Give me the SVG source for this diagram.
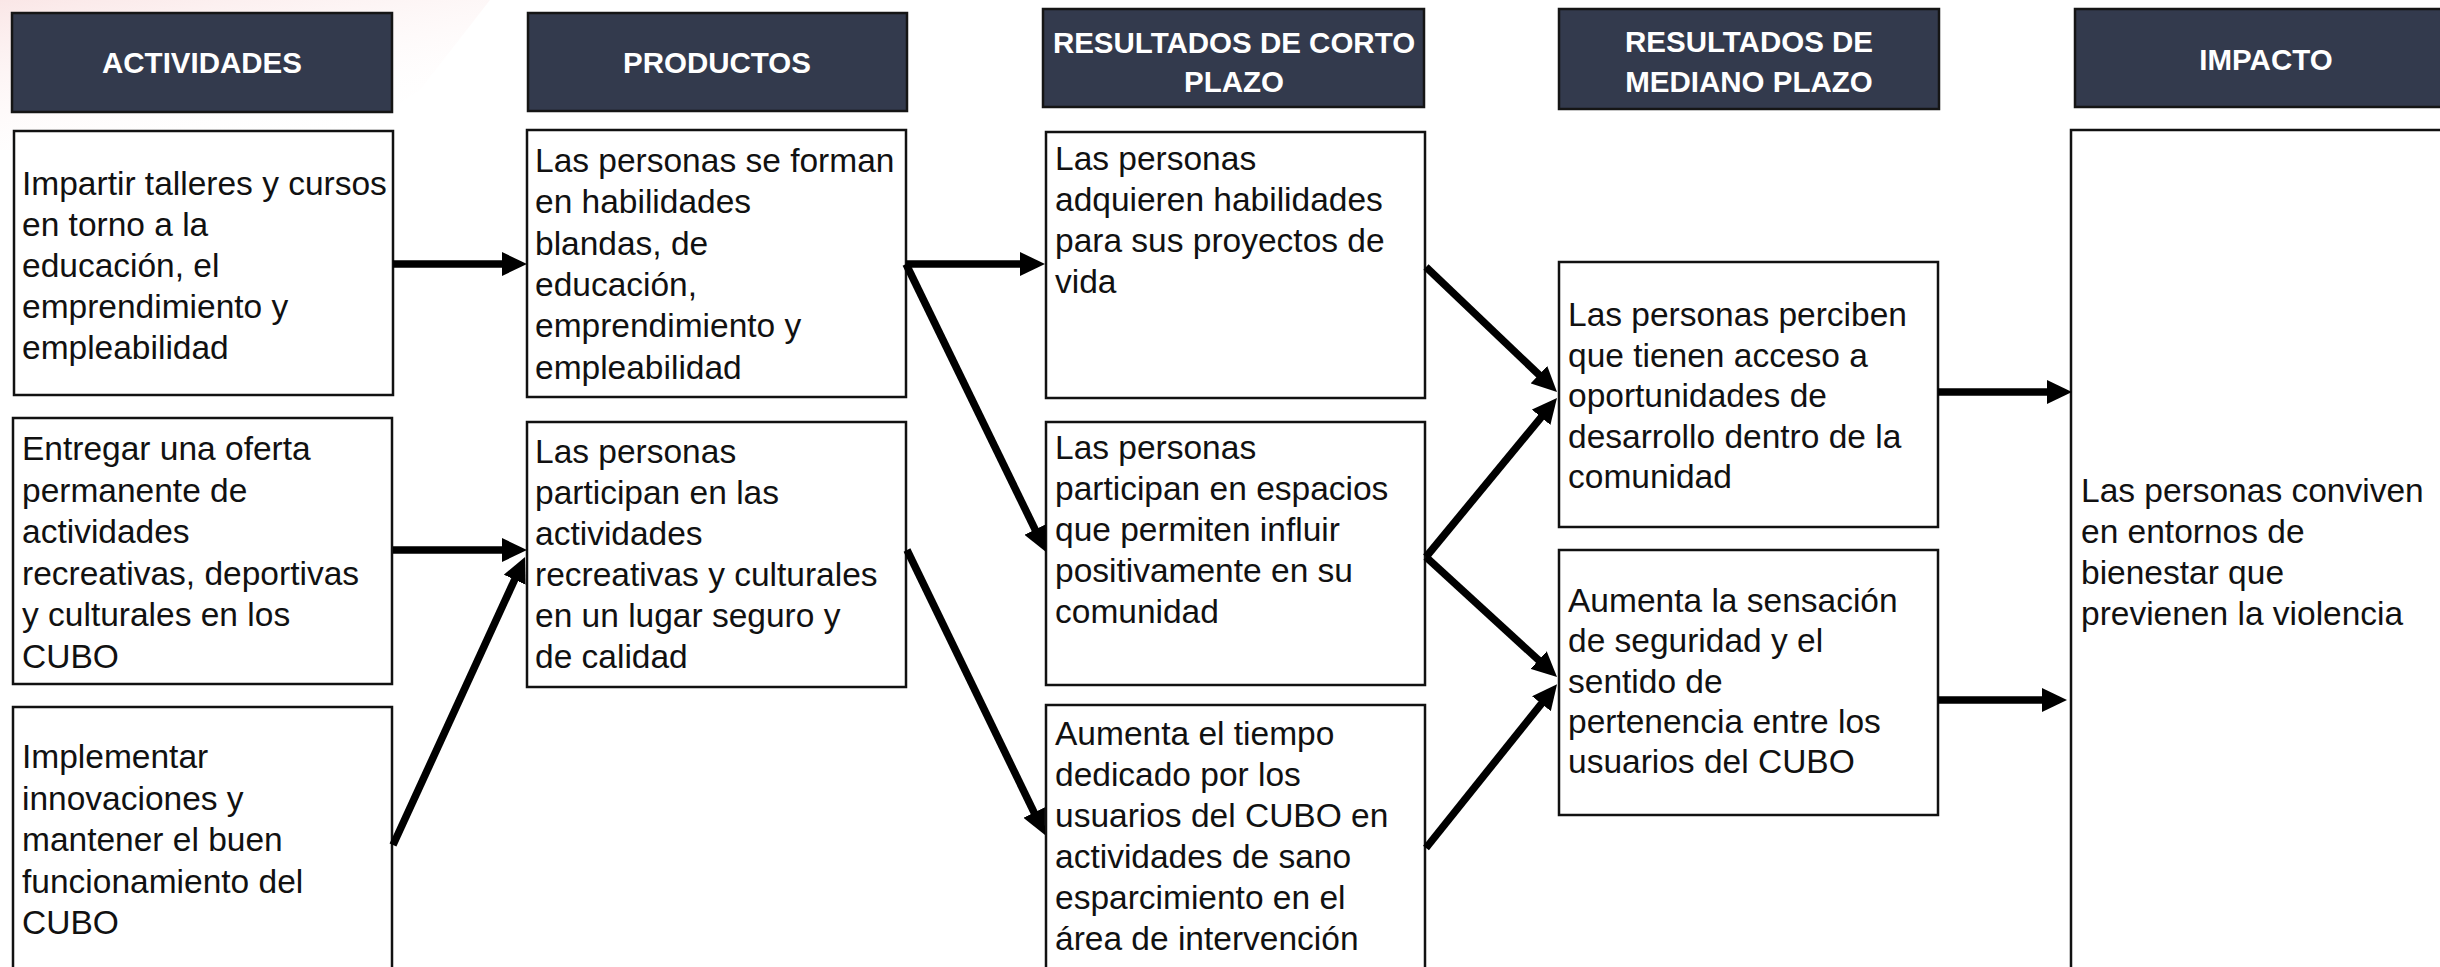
<svg xmlns="http://www.w3.org/2000/svg" width="2440" height="967" viewBox="0 0 2440 967">
<style>
.hdr{fill:#333a4d;stroke:#151515;stroke-width:2.5}
.box{fill:#ffffff;stroke:#111111;stroke-width:2.5}
.ht{font-family:"Liberation Sans",Arial,sans-serif;font-weight:bold;font-size:29.5px;fill:#ffffff;text-anchor:middle}
.bt{font-family:"Liberation Sans",Arial,sans-serif;font-size:33.5px;fill:#111111}
.cn{stroke:#000000;stroke-width:7.5;fill:none;marker-end:url(#ah)}
</style>
<defs>
<marker id="ah" markerUnits="userSpaceOnUse" markerWidth="25" markerHeight="24" viewBox="0 0 25 24" refX="11" refY="12" orient="auto">
<path d="M0,0 L25,12 L0,24 Z" fill="#000000"/>
</marker>
<linearGradient id="pk" x1="0" y1="0" x2="0.6" y2="1">
<stop offset="0" stop-color="#f8dcdc" stop-opacity="0.7"/>
<stop offset="1" stop-color="#ffffff" stop-opacity="0"/>
</linearGradient>
</defs>
<rect x="0" y="0" width="2440" height="967" fill="#ffffff"/>
<polygon points="0,0 490,0 420,90 330,150 0,150" fill="url(#pk)"/>

<g id="h-actividades"><rect class="hdr" x="12" y="13" width="380" height="99"/><text class="ht" x="202" y="73">ACTIVIDADES</text></g>
<g id="h-productos"><rect class="hdr" x="528" y="13" width="379" height="98"/><text class="ht" x="717" y="73">PRODUCTOS</text></g>
<g id="h-corto"><rect class="hdr" x="1043" y="9" width="381" height="98"/><text class="ht" x="1234" y="53">RESULTADOS DE CORTO</text><text class="ht" x="1234" y="92">PLAZO</text></g>
<g id="h-mediano"><rect class="hdr" x="1559" y="9" width="380" height="100"/><text class="ht" x="1749" y="52">RESULTADOS DE</text><text class="ht" x="1749" y="92">MEDIANO PLAZO</text></g>
<g id="h-impacto"><rect class="hdr" x="2075" y="9" width="385" height="98"/><text class="ht" x="2266" y="70">IMPACTO</text></g>

<g id="a1"><rect class="box" x="14" y="131" width="379" height="264"/>
<text class="bt"><tspan x="22" y="195">Impartir talleres y cursos</tspan><tspan x="22" y="236">en torno a la</tspan><tspan x="22" y="277">educación, el</tspan><tspan x="22" y="318">emprendimiento y</tspan><tspan x="22" y="359">empleabilidad</tspan></text></g>
<g id="a2"><rect class="box" x="13" y="418" width="379" height="266"/>
<text class="bt"><tspan x="22" y="460">Entregar una oferta</tspan><tspan x="22" y="501.5">permanente de</tspan><tspan x="22" y="543">actividades</tspan><tspan x="22" y="584.5">recreativas, deportivas</tspan><tspan x="22" y="626">y culturales en los</tspan><tspan x="22" y="667.5">CUBO</tspan></text></g>
<g id="a3"><rect class="box" x="13" y="707" width="379" height="280"/>
<text class="bt"><tspan x="22" y="768">Implementar</tspan><tspan x="22" y="809.5">innovaciones y</tspan><tspan x="22" y="851">mantener el buen</tspan><tspan x="22" y="892.5">funcionamiento del</tspan><tspan x="22" y="934">CUBO</tspan></text></g>

<g id="p1"><rect class="box" x="527" y="130" width="379" height="267"/>
<text class="bt"><tspan x="535" y="172">Las personas se forman</tspan><tspan x="535" y="213.3">en habilidades</tspan><tspan x="535" y="254.6">blandas, de</tspan><tspan x="535" y="295.9">educación,</tspan><tspan x="535" y="337.2">emprendimiento y</tspan><tspan x="535" y="378.5">empleabilidad</tspan></text></g>
<g id="p2"><rect class="box" x="527" y="422" width="379" height="265"/>
<text class="bt"><tspan x="535" y="463">Las personas</tspan><tspan x="535" y="504">participan en las</tspan><tspan x="535" y="545">actividades</tspan><tspan x="535" y="586">recreativas y culturales</tspan><tspan x="535" y="627">en un lugar seguro y</tspan><tspan x="535" y="668">de calidad</tspan></text></g>

<g id="c1"><rect class="box" x="1046" y="132" width="379" height="266"/>
<text class="bt"><tspan x="1055" y="170">Las personas</tspan><tspan x="1055" y="211">adquieren habilidades</tspan><tspan x="1055" y="252">para sus proyectos de</tspan><tspan x="1055" y="293">vida</tspan></text></g>
<g id="c2"><rect class="box" x="1046" y="422" width="379" height="263"/>
<text class="bt"><tspan x="1055" y="459">Las personas</tspan><tspan x="1055" y="500">participan en espacios</tspan><tspan x="1055" y="541">que permiten influir</tspan><tspan x="1055" y="582">positivamente en su</tspan><tspan x="1055" y="623">comunidad</tspan></text></g>
<g id="c3"><rect class="box" x="1046" y="705" width="379" height="280"/>
<text class="bt"><tspan x="1055" y="745">Aumenta el tiempo</tspan><tspan x="1055" y="786">dedicado por los</tspan><tspan x="1055" y="827">usuarios del CUBO en</tspan><tspan x="1055" y="868">actividades de sano</tspan><tspan x="1055" y="909">esparcimiento en el</tspan><tspan x="1055" y="950">área de intervención</tspan></text></g>

<g id="m1"><rect class="box" x="1559" y="262" width="379" height="265"/>
<text class="bt"><tspan x="1568" y="326">Las personas perciben</tspan><tspan x="1568" y="366.5">que tienen acceso a</tspan><tspan x="1568" y="407">oportunidades de</tspan><tspan x="1568" y="447.5">desarrollo dentro de la</tspan><tspan x="1568" y="488">comunidad</tspan></text></g>
<g id="m2"><rect class="box" x="1559" y="550" width="379" height="265"/>
<text class="bt"><tspan x="1568" y="612">Aumenta la sensación</tspan><tspan x="1568" y="652.3">de seguridad y el</tspan><tspan x="1568" y="692.6">sentido de</tspan><tspan x="1568" y="732.9">pertenencia entre los</tspan><tspan x="1568" y="773.2">usuarios del CUBO</tspan></text></g>

<g id="impacto"><rect class="box" x="2071" y="130" width="389" height="857"/>
<text class="bt"><tspan x="2081" y="502">Las personas conviven</tspan><tspan x="2081" y="543">en entornos de</tspan><tspan x="2081" y="584">bienestar que</tspan><tspan x="2081" y="625">previenen la violencia</tspan></text></g>

<g id="connectors">
<line class="cn" x1="393" y1="264" x2="513" y2="264"/>
<line class="cn" x1="393" y1="550" x2="513" y2="550"/>
<line class="cn" x1="393" y1="845" x2="519.2" y2="569.7"/>
<line class="cn" x1="906" y1="264" x2="1031" y2="264"/>
<line class="cn" x1="906" y1="264" x2="1039.9" y2="539.4"/>
<line class="cn" x1="907" y1="550" x2="1038.9" y2="822.4"/>
<line class="cn" x1="1426" y1="267" x2="1546.9" y2="382.3"/>
<line class="cn" x1="1426" y1="557" x2="1548.1" y2="408.8"/>
<line class="cn" x1="1426" y1="557" x2="1546.7" y2="667.5"/>
<line class="cn" x1="1426" y1="848" x2="1548.3" y2="695.1"/>
<line class="cn" x1="1938" y1="392" x2="2058" y2="392"/>
<line class="cn" x1="1938" y1="700" x2="2053" y2="700"/>
</g>
</svg>
